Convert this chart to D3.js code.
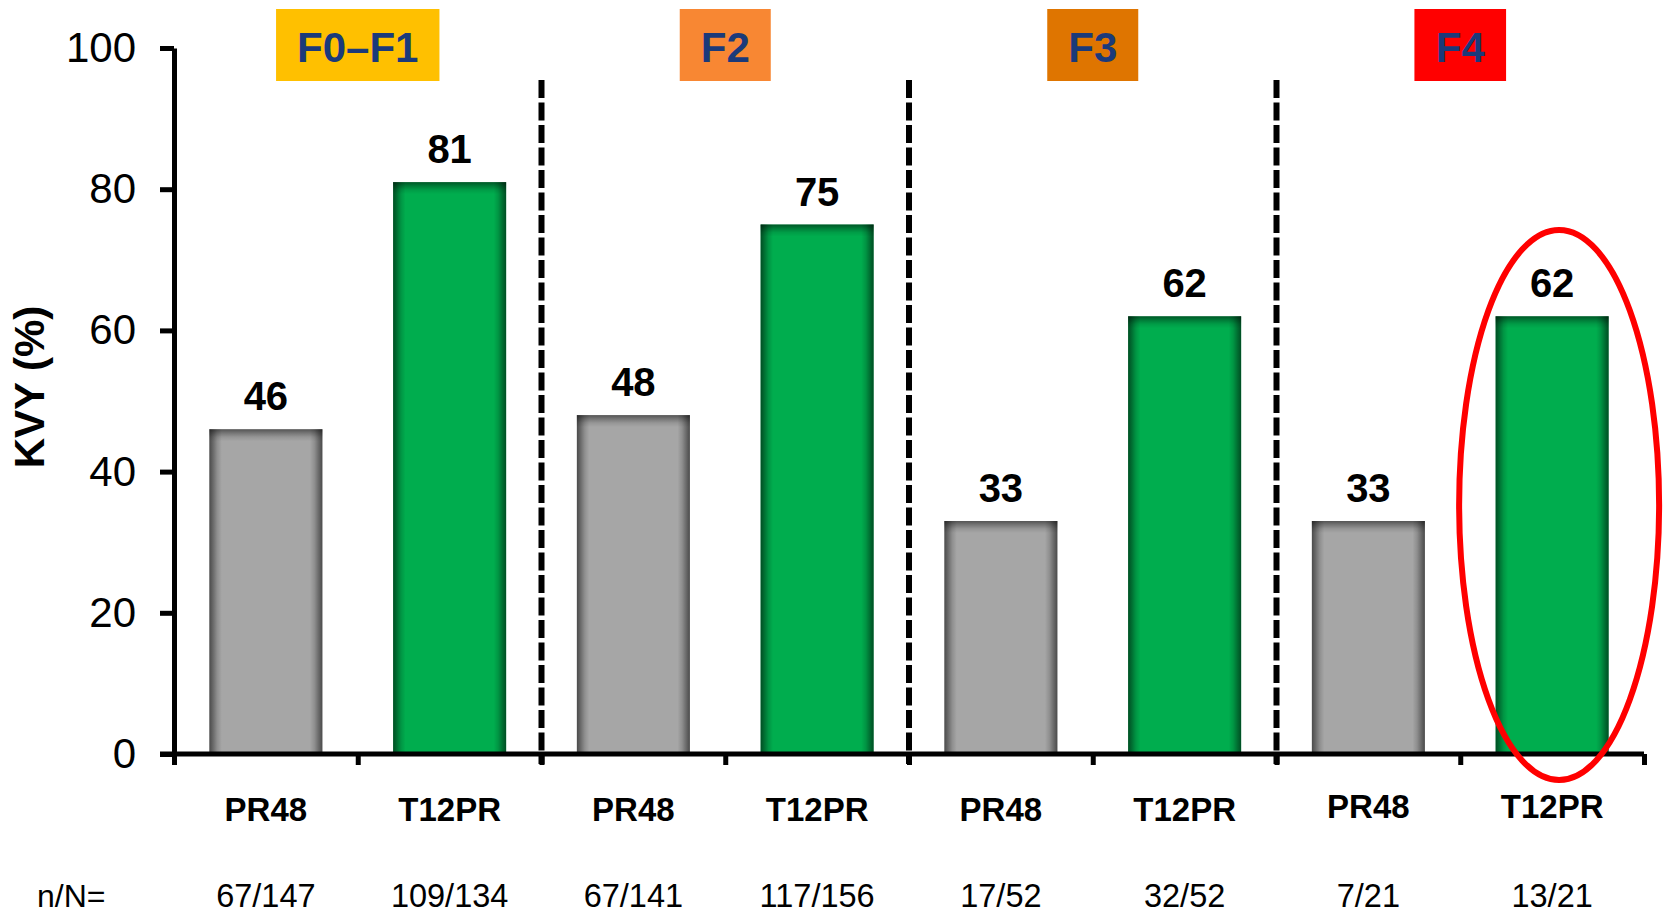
<!DOCTYPE html>
<html>
<head>
<meta charset="utf-8">
<script src="https://cdn.jsdelivr.net/npm/d3@7/dist/d3.min.js"></script>
<style>
  html, body { margin: 0; padding: 0; background: #fff; }
  svg { display: block; font-family: Arial, "Liberation Sans", sans-serif; }
</style>
</head>
<body>
<svg id="chart" width="1671" height="915"></svg>
<script>
// Fibrosis stage groups and the two treatment arms within each
const stages = ["F0–F1", "F2", "F3", "F4"];
const arms = ["PR48", "T12PR"];
// KVY (%) per bar, in stage order, PR48 then T12PR
const kvy = [46, 81, 48, 75, 33, 62, 33, 62];
// responders / patients per bar
const nN = ["67/147", "109/134", "67/141", "117/156", "17/52", "32/52", "7/21", "13/21"];
const yTicks = [0, 20, 40, 60, 80, 100];

// styling
const stageFill = ["#FFC000", "#F88733", "#DF7500", "#FF0000"];
const armFill = { PR48: "#A6A6A6", T12PR: "#00AD4E" };
const highlightBar = 7; // F4 / T12PR

const bars = kvy.map((v, i) => ({
  id: i,
  stage: stages[Math.floor(i / arms.length)],
  arm: arms[i % arms.length],
  value: v,
  nN: nN[i]
}));

const svg = d3.select("#chart");
const plotLeft = 174, plotRight = 1644, plotTop = 48, plotBottom = 754;

const y = d3.scaleLinear().domain([0, 100]).range([plotBottom, plotTop]);
const x = d3.scaleBand()
  .domain(bars.map(d => d.id))
  .range([plotLeft, plotRight])
  .paddingInner(0.385)
  .paddingOuter(0.1925);
const slot = d3.scaleLinear().domain([0, bars.length]).range([plotLeft, plotRight]);

// edge shading gradients for the bars
const defs = svg.append("defs");
const side = defs.append("linearGradient").attr("id", "sideShade")
  .attr("x1", 0).attr("x2", 1).attr("y1", 0).attr("y2", 0);
[[0, 0.55], [0.03, 0.38], [0.07, 0.14], [0.11, 0], [0.89, 0], [0.93, 0.14], [0.97, 0.38], [1, 0.55]]
  .forEach(([o, a]) => side.append("stop").attr("offset", o)
    .attr("stop-color", "#000").attr("stop-opacity", a));
const topG = defs.append("linearGradient").attr("id", "topShade")
  .attr("x1", 0).attr("x2", 0).attr("y1", 0).attr("y2", 1);
[[0, 0.5], [0.3, 0.3], [0.65, 0.1], [1, 0]]
  .forEach(([o, a]) => topG.append("stop").attr("offset", o)
    .attr("stop-color", "#000").attr("stop-opacity", a));

// bars
const barG = svg.append("g").selectAll("g").data(bars).join("g");
barG.append("rect")
  .attr("x", d => x(d.id))
  .attr("y", d => y(d.value))
  .attr("width", x.bandwidth())
  .attr("height", d => y(0) - y(d.value))
  .attr("fill", d => armFill[d.arm]);
barG.append("rect")
  .attr("x", d => x(d.id))
  .attr("y", d => y(d.value))
  .attr("width", x.bandwidth())
  .attr("height", d => y(0) - y(d.value))
  .attr("fill", "url(#sideShade)");
barG.append("rect")
  .attr("x", d => x(d.id))
  .attr("y", d => y(d.value))
  .attr("width", x.bandwidth())
  .attr("height", 12)
  .attr("fill", "url(#topShade)");

// value labels
svg.append("g").selectAll("text").data(bars).join("text")
  .attr("x", d => x(d.id) + x.bandwidth() / 2)
  .attr("y", d => y(d.value) - 19)
  .attr("text-anchor", "middle")
  .attr("font-size", 40).attr("font-weight", "bold")
  .text(d => d.value);

// dashed separators between stages
const seps = d3.range(1, stages.length).map(k => k * arms.length);
svg.append("g").selectAll("line").data(seps).join("line")
  .attr("x1", d => slot(d)).attr("x2", d => slot(d))
  .attr("y1", 80).attr("y2", plotBottom + 10)
  .attr("stroke", "#000").attr("stroke-width", 6)
  .attr("stroke-dasharray", "18,4.5");

// y axis
const yAxis = svg.append("g").attr("transform", `translate(${plotLeft},0)`)
  .call(d3.axisLeft(y).tickValues(yTicks).tickSize(14).tickPadding(24).tickSizeOuter(0));
yAxis.select(".domain").attr("stroke-width", 5);
yAxis.selectAll(".tick line").attr("stroke-width", 5);
yAxis.selectAll(".tick text").attr("font-size", 42).attr("fill", "#000")
  .attr("font-family", "Arial, 'Liberation Sans', sans-serif");

// x axis with ticks at slot boundaries
const xAxis = svg.append("g").attr("transform", `translate(0,${plotBottom})`)
  .call(d3.axisBottom(slot).tickValues(d3.range(0, bars.length + 1)).tickSize(11)
    .tickFormat("").tickSizeOuter(0));
xAxis.select(".domain").attr("stroke-width", 5)
  .attr("d", `M${plotLeft - 14},0H${plotRight}`);
xAxis.selectAll(".tick line").attr("stroke-width", 5);

// arm labels
svg.append("g").selectAll("text").data(bars).join("text")
  .attr("x", d => x(d.id) + x.bandwidth() / 2)
  .attr("y", d => d.stage === stages[3] ? 818 : 821)
  .attr("text-anchor", "middle")
  .attr("font-size", 33).attr("font-weight", "bold")
  .text(d => d.arm);

// n/N labels
svg.append("text").attr("x", 37).attr("y", 907)
  .attr("font-size", 32).text("n/N=");
svg.append("g").selectAll("text").data(bars).join("text")
  .attr("x", d => x(d.id) + x.bandwidth() / 2)
  .attr("y", 907)
  .attr("text-anchor", "middle")
  .attr("font-size", 32.5)
  .text(d => d.nN);

// y axis title
svg.append("text")
  .attr("transform", "translate(44,387) rotate(-90)")
  .attr("text-anchor", "middle")
  .attr("font-size", 42).attr("font-weight", "bold")
  .text("KVY (%)");

// stage header boxes
const hdr = svg.append("g").selectAll("g").data(stages).join("g")
  .attr("transform", (d, i) => `translate(${(slot(i * 2) + slot(i * 2 + 2)) / 2},0)`);
hdr.append("text")
  .attr("y", 62).attr("text-anchor", "middle")
  .attr("font-size", 42).attr("font-weight", "bold")
  .attr("fill", "#1B3A7A")
  .text(d => d);
hdr.each(function (d, i) {
  const t = d3.select(this).select("text");
  const w = t.node().getBBox().width + 42;
  d3.select(this).insert("rect", "text")
    .attr("x", -w / 2).attr("y", 9).attr("width", w).attr("height", 72)
    .attr("fill", stageFill[i]);
});

// highlight ring around the F4 T12PR bar
svg.append("ellipse")
  .attr("cx", x(highlightBar) + x.bandwidth() / 2 + 7)
  .attr("cy", 505)
  .attr("rx", 100).attr("ry", 275)
  .attr("fill", "none").attr("stroke", "#FF0000").attr("stroke-width", 6);
</script>
</body>
</html>
